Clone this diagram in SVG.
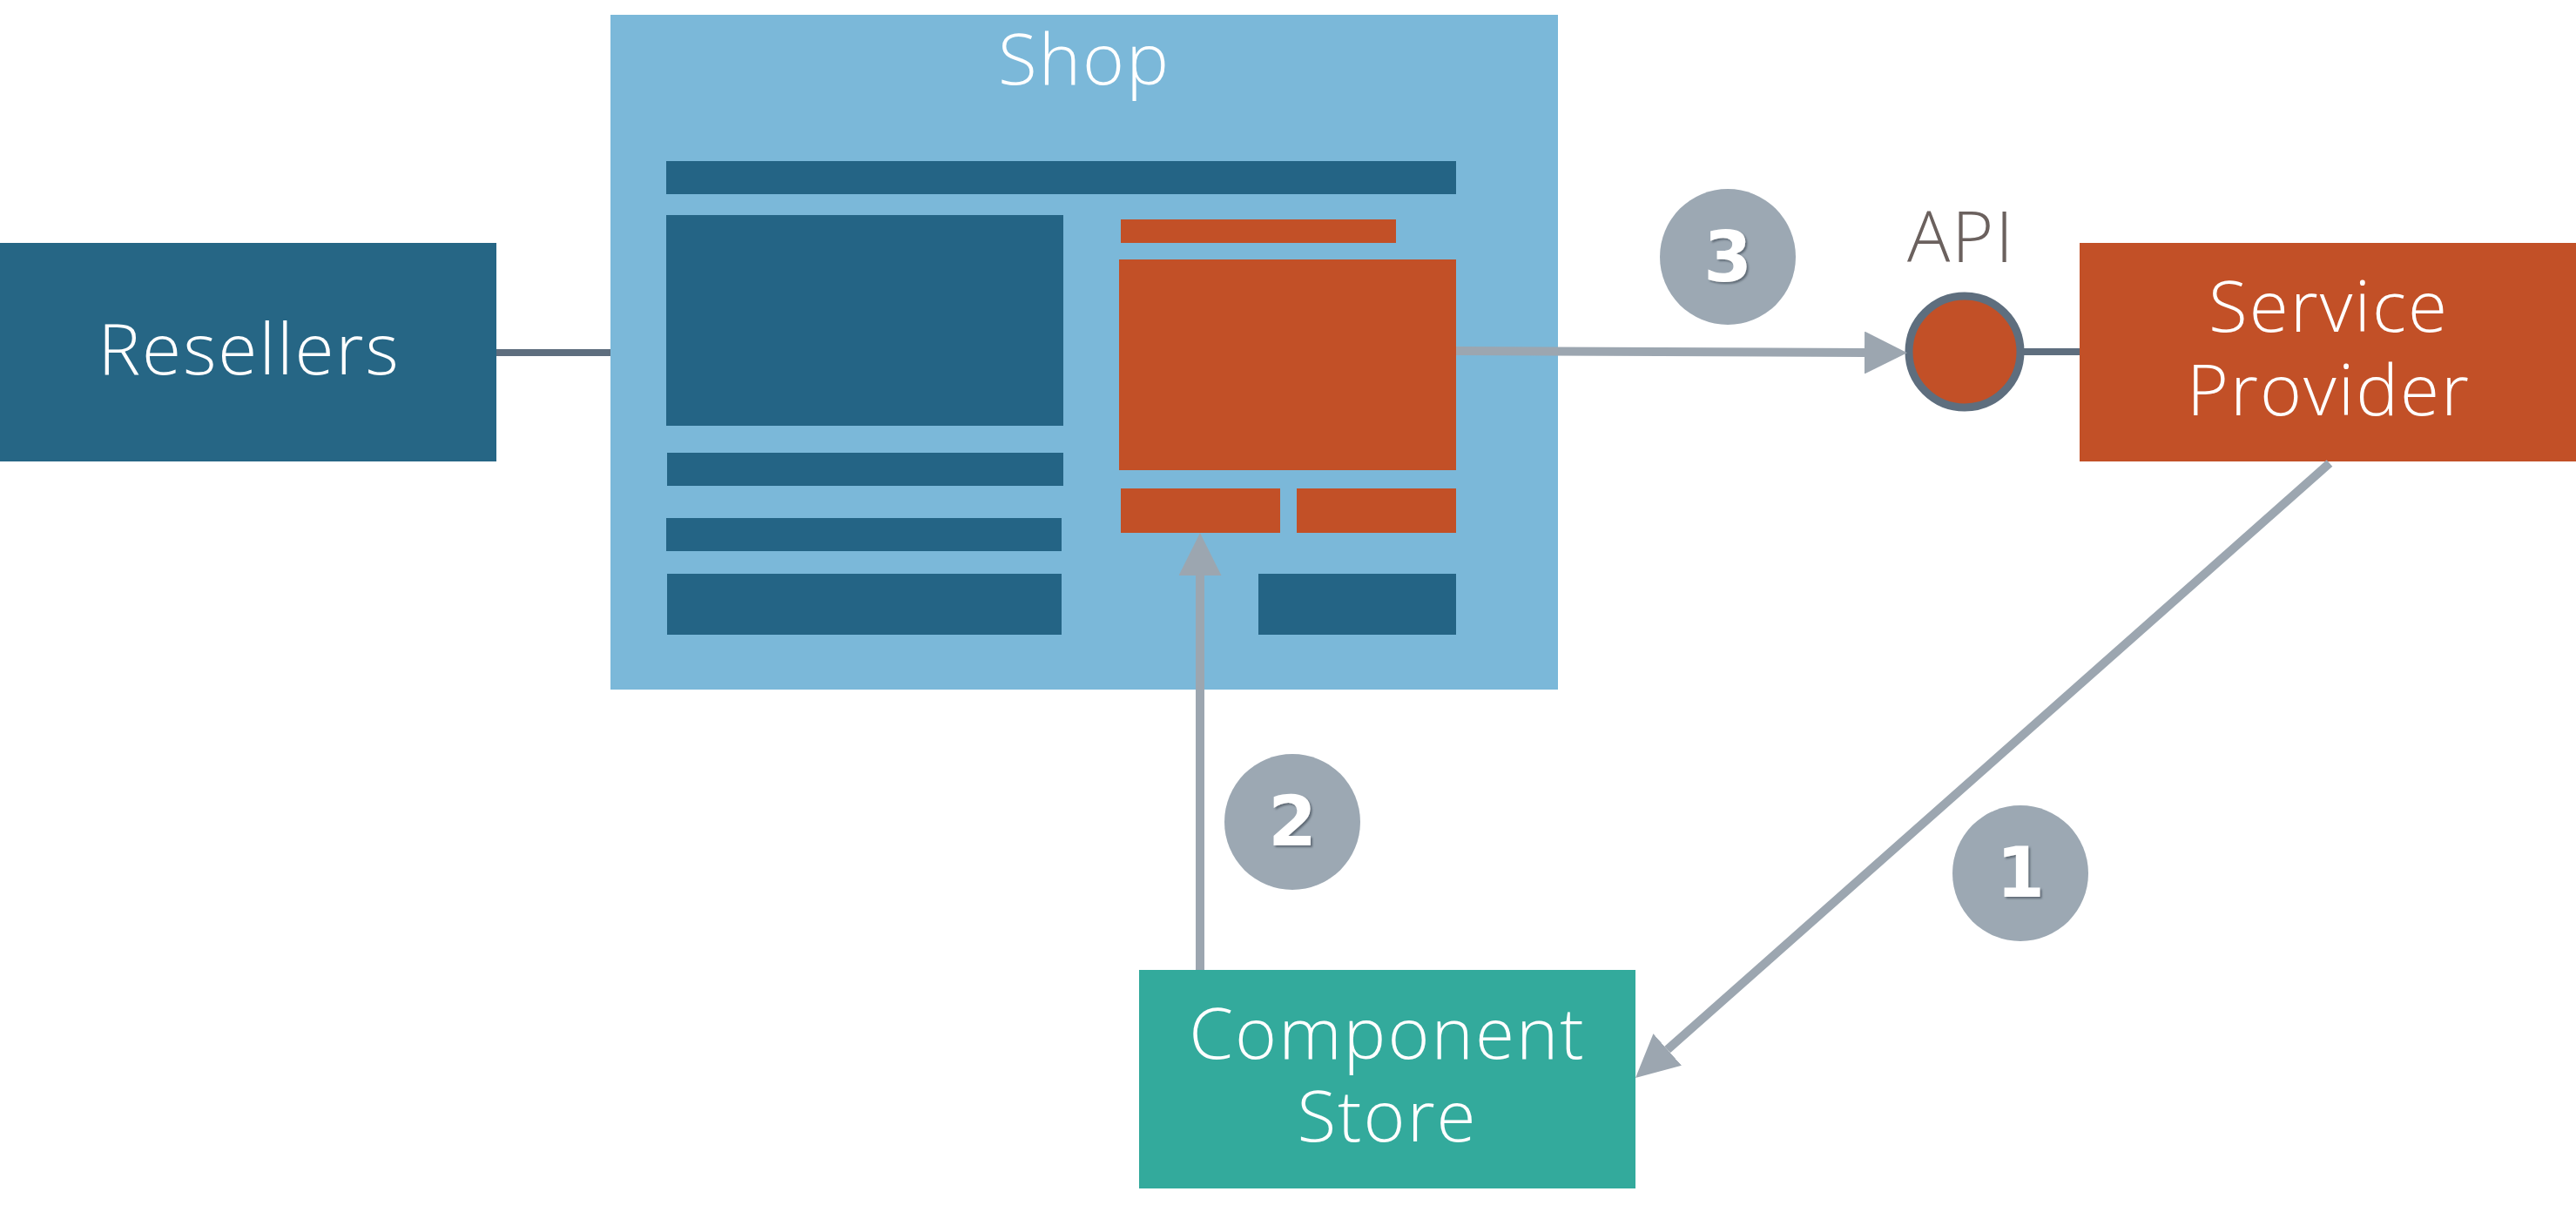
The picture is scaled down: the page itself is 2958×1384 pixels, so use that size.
<svg xmlns="http://www.w3.org/2000/svg" width="2958" height="1384" viewBox="0 0 2958 1384">
  <style>
    .label { font-family: "Open Sans", "Liberation Sans", sans-serif; font-weight: 300; font-size: 82px; letter-spacing: 2px; fill: #ffffff; text-anchor: middle; }
    .api { fill: #6b615e; }
    .dark { fill: #246485; }
    .accent { fill: #c25027; }
    .step { fill: #9ca8b3; }
    .num { font-family: "DejaVu Sans", "Liberation Sans", sans-serif; font-weight: bold; font-size: 80px; fill: #ffffff; text-anchor: middle; filter: url(#numShadow); }
    .link { stroke: #5e6e7e; stroke-width: 8; fill: none; }
    .flow { stroke: #9ca6b0; stroke-width: 10; fill: none; marker-end: url(#head); }
  </style>
  <defs>
    <marker id="head" markerUnits="userSpaceOnUse" markerWidth="49" markerHeight="49" refX="0" refY="24.5" orient="auto" viewBox="0 0 49 49">
      <path d="M0,0 L49,24.5 L0,49 Z" fill="#9ca6b0"/>
    </marker>
    <filter id="numShadow" x="-30%" y="-30%" width="160%" height="160%">
      <feDropShadow dx="2" dy="2" stdDeviation="1" flood-color="#4f5a66" flood-opacity="0.8"/>
    </filter>
  </defs>

  <rect width="2958" height="1384" fill="#ffffff"/>

  <!-- resellers -->
  <g id="resellers">
    <rect x="0" y="279" width="570" height="251" fill="#266685"/>
    <text class="label" x="286" y="430">Resellers</text>
  </g>

  <!-- shop with a sketched page layout -->
  <g id="shop">
    <rect x="701" y="17" width="1088" height="775" fill="#7bb8d9"/>
    <text class="label" x="1245" y="97">Shop</text>
    <rect class="dark" x="765" y="185" width="907" height="38"/>
    <rect class="dark" x="765" y="247" width="456" height="242"/>
    <rect class="dark" x="766" y="520" width="455" height="38"/>
    <rect class="dark" x="765" y="595" width="454" height="38"/>
    <rect class="dark" x="766" y="659" width="453" height="70"/>
    <rect class="dark" x="1445" y="659" width="227" height="70"/>
    <rect class="accent" x="1287" y="252" width="316" height="27"/>
    <rect class="accent" x="1285" y="298" width="387" height="242"/>
    <rect class="accent" x="1287" y="561" width="183" height="51"/>
    <rect class="accent" x="1489" y="561" width="183" height="51"/>
  </g>

  <!-- api endpoint -->
  <g id="api">
    <circle cx="2256" cy="404" r="64" fill="#c25027" stroke="#5e6e7e" stroke-width="9"/>
    <text class="label api" x="2252" y="301">API</text>
  </g>

  <!-- service provider -->
  <g id="service-provider">
    <rect x="2388" y="279" width="570" height="251" fill="#c25027"/>
    <text class="label" x="2674" y="381">Service<tspan x="2674" dy="96">Provider</tspan></text>
  </g>

  <!-- component store -->
  <g id="component-store">
    <rect x="1308" y="1114" width="570" height="251" fill="#33aa9c"/>
    <text class="label" x="1593" y="1216">Component<tspan x="1593" dy="95">Store</tspan></text>
  </g>

  <!-- connectors, drawn over the shop layout -->
  <g id="connectors">
    <line class="link" x1="570" y1="405" x2="701" y2="405"/>
    <line class="link" x1="2322" y1="404" x2="2388" y2="404" stroke-width="9"/>
    <line class="flow" x1="1672" y1="403" x2="2141" y2="405"/>
    <line class="flow" x1="1378" y1="1114" x2="1378" y2="661"/>
    <line class="flow" x1="2675" y1="532" x2="1914.7" y2="1205.5"/>
  </g>

  <!-- step markers -->
  <g id="step-1">
    <circle class="step" cx="2320" cy="1003" r="78"/>
    <text class="num" x="2320" y="1030">1</text>
  </g>
  <g id="step-2">
    <circle class="step" cx="1484" cy="944" r="78"/>
    <text class="num" x="1484" y="971">2</text>
  </g>
  <g id="step-3">
    <circle class="step" cx="1984" cy="295" r="78"/>
    <text class="num" x="1984" y="323">3</text>
  </g>
</svg>
